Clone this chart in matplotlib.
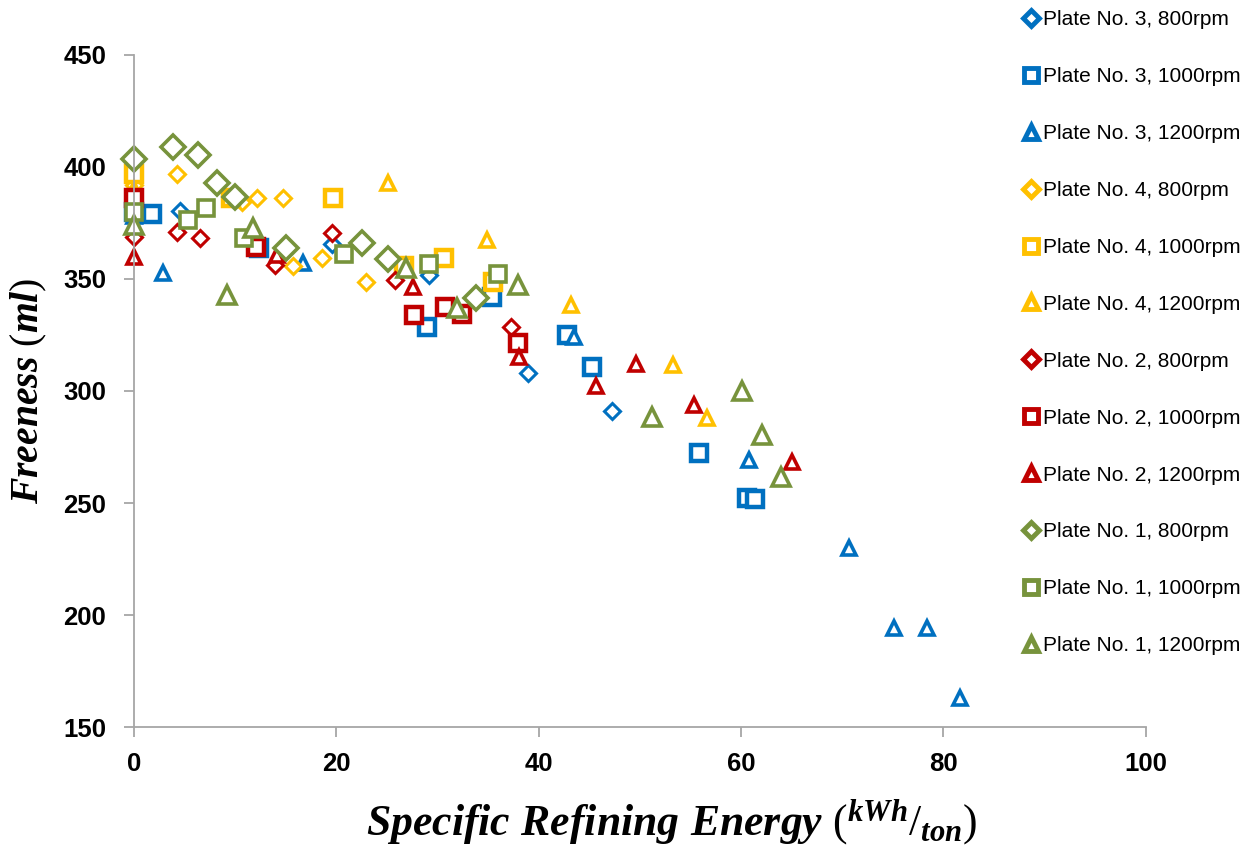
import matplotlib.pyplot as plt
from matplotlib.lines import Line2D

plt.rcParams['mathtext.fontset'] = 'custom'
plt.rcParams['mathtext.it'] = 'Liberation Serif:italic:bold'
plt.rcParams['mathtext.rm'] = 'Liberation Serif'
plt.rcParams['mathtext.bf'] = 'Liberation Serif:bold'

# plate 3
p3_800_x = [0.0, 4.6, 19.6, 29.2, 39.0, 47.3]
p3_800_y = [383, 380.4, 365.6, 352, 308, 291]
p3_1000_x = [0.0, 1.8, 12.4, 29.0, 35.4, 42.8, 45.3, 55.9, 60.6, 61.4]
p3_1000_y = [380, 379, 364, 328.6, 342, 324.8, 310.7, 272.3, 252.4, 252]
p3_1200_x = [0.0, 2.9, 16.7, 43.5, 60.8, 70.7, 75.1, 78.4, 81.7]
p3_1200_y = [378, 352.7, 357, 324, 269.2, 230, 194.2, 194.2, 163]

# plate 4
p4_800_x = [0.0, 4.3, 10.7, 12.2, 14.7, 15.7, 18.6, 22.9]
p4_800_y = [392, 396.9, 384.5, 386.2, 386.2, 355.8, 359.4, 348.7]
p4_1000_x = [0.0, 9.6, 19.7, 26.7, 30.6, 35.5]
p4_1000_y = [397, 386, 386, 355.8, 359.4, 348.7]
p4_1200_x = [0.0, 25.1, 34.9, 43.2, 53.3, 56.6]
p4_1200_y = [390, 392.9, 367.4, 338.4, 311.6, 288]

# plate 2
p2_800_x = [0.0, 4.3, 6.5, 13.9, 19.6, 25.8, 37.3]
p2_800_y = [368.7, 371, 368.3, 356.3, 370.5, 349.6, 328.6]
p2_1000_x = [0.0, 12.1, 27.7, 30.7, 32.4, 38.0]
p2_1000_y = [386, 364.3, 334, 337.5, 334.4, 321.4]
p2_1200_x = [0.0, 14.1, 27.6, 38.1, 45.7, 49.6, 55.4, 65.0]
p2_1200_y = [359.8, 360.7, 346.4, 315.2, 302.2, 312, 293.8, 268.3]

# plate 1
p1_800_x = [0.0, 3.9, 6.3, 8.2, 10.0, 15.0, 22.5, 25.1, 33.8]
p1_800_y = [403.6, 409, 405.4, 392.9, 386.6, 363.8, 366, 358.9, 341.5]
p1_1000_x = [0.0, 5.3, 7.1, 10.9, 20.8, 29.2, 36.0]
p1_1000_y = [380, 376.3, 381.7, 368.3, 361.2, 356.7, 352.2]
p1_1200_x = [0.0, 9.2, 11.8, 26.9, 31.9, 38.0, 51.2, 60.1, 62.1, 64.0]
p1_1200_y = [374, 342.9, 372.8, 354.9, 337, 347.3, 288.4, 300, 280.4, 261.6]

blue, yellow, red, green = '#0070C0', '#FFC000', '#C00000', '#77933C'

series = [
    ('Plate No. 3, 800rpm', p3_800_x, p3_800_y, blue, 'D', 8, 2.2),
    ('Plate No. 3, 1000rpm', p3_1000_x, p3_1000_y, blue, 's', 11, 3.2),
    ('Plate No. 3, 1200rpm', p3_1200_x, p3_1200_y, blue, '^', 10, 2.6),
    ('Plate No. 4, 800rpm', p4_800_x, p4_800_y, yellow, 'D', 8, 2.2),
    ('Plate No. 4, 1000rpm', p4_1000_x, p4_1000_y, yellow, 's', 11, 3.2),
    ('Plate No. 4, 1200rpm', p4_1200_x, p4_1200_y, yellow, '^', 10, 2.6),
    ('Plate No. 2, 800rpm', p2_800_x, p2_800_y, red, 'D', 8, 2.2),
    ('Plate No. 2, 1000rpm', p2_1000_x, p2_1000_y, red, 's', 11, 3.2),
    ('Plate No. 2, 1200rpm', p2_1200_x, p2_1200_y, red, '^', 10, 2.6),
    ('Plate No. 1, 800rpm', p1_800_x, p1_800_y, green, 'D', 12, 2.6),
    ('Plate No. 1, 1000rpm', p1_1000_x, p1_1000_y, green, 's', 11, 2.6),
    ('Plate No. 1, 1200rpm', p1_1200_x, p1_1200_y, green, '^', 13, 2.6),
]

fig = plt.figure(figsize=(12.52, 8.5), dpi=100)
ax = fig.add_axes([0.107, 0.1447, 0.808, 0.7906])

handles = []
for label, xs, ys, c, m, ms, mew in series:
    ax.plot(xs, ys, linestyle='none', marker=m, markersize=ms,
            markerfacecolor='white', markeredgecolor=c, markeredgewidth=mew,
            clip_on=False)
    # legend keys are all drawn at one size
    hs = {'D': 8, 's': 10.5, '^': 10}[m]
    handles.append(Line2D([], [], linestyle='none', marker=m, markersize=hs,
                          markerfacecolor='white', markeredgecolor=c,
                          markeredgewidth=3.5, label=label))

ax.set_xlim(0, 100)
ax.set_ylim(150, 450)
ax.set_xticks(range(0, 101, 20))
ax.set_yticks(range(150, 451, 50))

for side in ['top', 'right']:
    ax.spines[side].set_visible(False)
for side in ['left', 'bottom']:
    ax.spines[side].set_color('#A6A6A6')
    ax.spines[side].set_linewidth(1.3)
ax.tick_params(axis='both', colors='#A6A6A6', length=7, width=1.3,
               labelcolor='black', labelsize=18.5)
for t in ax.get_xticklabels() + ax.get_yticklabels():
    t.set_fontweight('bold')
    t.set_fontfamily('Liberation Sans')
ax.tick_params(axis='y', pad=13)
ax.tick_params(axis='x', pad=11)

ax.set_xlabel(r'$Specific\ Refining\ Energy\ \mathrm{(}^{kWh}/_{ton}\mathrm{)}$',
              fontsize=31.5)
ax.xaxis.set_label_coords(0.531, -0.142)
ax.xaxis.label.set_verticalalignment('center')
ax.set_ylabel(r'$Freeness\ \mathrm{(}ml\mathrm{)}$', fontsize=28.5, labelpad=10)

ax.legend(handles=handles, loc='upper left', bbox_to_anchor=(0.817, 0.988),
          bbox_transform=fig.transFigure, frameon=False,
          prop={'family': 'Liberation Sans', 'size': 15},
          labelspacing=1.82, handletextpad=0.18, handlelength=0.8,
          borderaxespad=0, borderpad=0)

fig.savefig('out.png', dpi=100)
